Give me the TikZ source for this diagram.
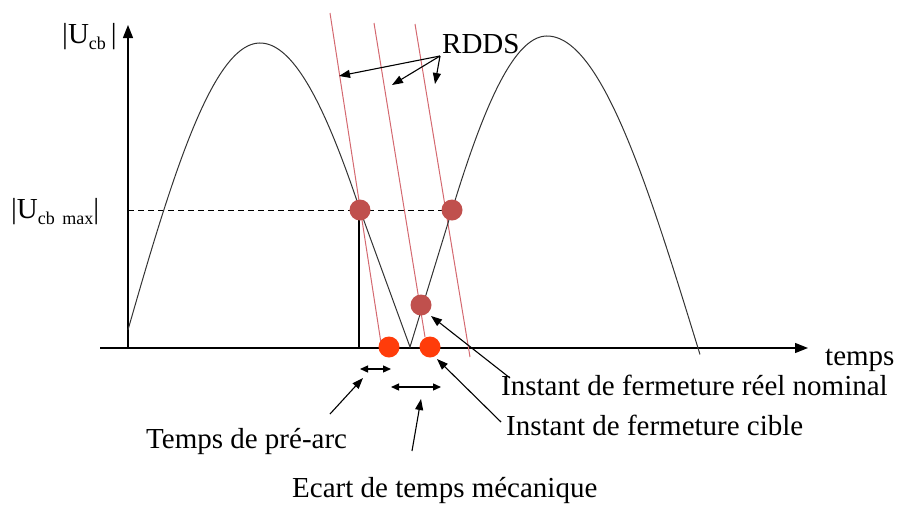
\documentclass[tikz,border=0pt]{standalone}
\usepackage{fontspec}
\setmainfont{Liberation Serif}
\usetikzlibrary{arrows.meta}
\definecolor{dotbrown}{RGB}{192,80,77}
\definecolor{dotorange}{RGB}{255,60,10}
\definecolor{rline}{RGB}{212,105,112}
\newcommand{\subtxt}[1]{\raisebox{-0.22em}{\fontsize{18}{20}\selectfont #1}}
\tikzset{
  lbl/.style={font=\fontsize{29}{33}\selectfont, inner sep=0pt, anchor=base west},
  curve/.style={line width=1pt, black!80},
  axis/.style={line width=1.3pt, -{Triangle[length=13pt,width=10pt]}},
  rdds/.style={rline, line width=1pt},
  bdot/.style={circle, fill=dotbrown, minimum size=21pt, inner sep=0pt},
  odot/.style={circle, fill=dotorange, minimum size=21pt, inner sep=0pt},
  pointer/.style={line width=1.1pt, -{Triangle[length=11pt,width=8pt]}},
  span/.style={line width=1.3pt, {Triangle[length=8pt,width=7pt]}-{Triangle[length=8pt,width=7pt]}}
}
\begin{document}
\begin{tikzpicture}[x=1pt,y=-1pt]
\path[use as bounding box] (0,0) rectangle (903,504);
% axes
\coordinate (xs) at (100,348);
\coordinate (xe) at (808,348);
\coordinate (ys) at (128,348);
\coordinate (ye) at (128,25);
\draw[axis] (xs) -- (xe);
\draw[axis] (ys) -- (ye);
% dashed level
\coordinate (d0) at (128,210);
\coordinate (d1) at (452,210);
\draw[dashed, line width=1pt, dash pattern=on 6pt off 4pt] (d0) -- (d1);
% thick vertical
\coordinate (v0) at (359,210);
\coordinate (v1) at (359,348);
\draw[line width=2.4pt] (v0) -- (v1);
% RDDS lines
\coordinate (r1a) at (330,13);  \coordinate (r1b) at (381,343);
\coordinate (r2a) at (374,23);  \coordinate (r2b) at (425,337);
\coordinate (r3a) at (415,24);  \coordinate (r3b) at (470,357);
\draw[rdds] (r1a) -- (r1b);
\draw[rdds] (r2a) -- (r2b);
\draw[rdds] (r3a) -- (r3b);
% curve
\coordinate (vb) at (410,347);
\draw[curve] plot[domain=128:260, samples=60] (\x, {348 - 305*sin(90*(\x-122.8)/137.2)})
  -- plot[domain=260:360, samples=50] (\x, {348 - 305*cos(90*(\x-260)/142.7)})
  -- (vb) -- (452,210)
  -- plot[domain=452:547, samples=50] (\x, {348 - 312*sin(90*(\x-413)/134)})
  -- plot[domain=547:700, samples=70] (\x, {348 - 312*cos(90*(\x-547)/151)});
% dots
\node[bdot] (p1) at (360,210) {};
\node[bdot] (p2) at (452,210) {};
\node[bdot] (p3) at (421,305) {};
\node[odot] (o1) at (389,347) {};
\node[odot] (o2) at (430,347) {};
% spans
\coordinate (s1a) at (360,369); \coordinate (s1b) at (391,369);
\coordinate (s2a) at (391,387); \coordinate (s2b) at (441,387);
\draw[span] (s1a) -- (s1b);
\draw[span] (s2a) -- (s2b);
% labels
\node[lbl] (yl) at (62,43) {|U\subtxt{cb}\,|};
\node[lbl] (ymax) at (11,218) {|U\subtxt{cb\, max}|};
\node[lbl] (rd) at (442,53) {RDDS};
\node[lbl] (tp) at (825,365) {temps};
\node[lbl] (reel) at (501,395) {Instant de fermeture réel nominal};
\node[lbl] (cible) at (506,435) {Instant de fermeture cible};
\node[lbl] (pre) at (146,448) {Temps de pré-arc};
\node[lbl] (ecart) at (292,497) {Ecart de temps mécanique};
% RDDS pointers
\coordinate (rc) at (440,56);
\coordinate (h1) at (339,76);
\coordinate (h2) at (392,85);
\coordinate (h3) at (435,84);
\draw[pointer] (rc) -- (h1);
\draw[pointer] (rc) -- (h2);
\draw[pointer] (rc) -- (h3);
% other pointers
\coordinate (pa) at (330,414); \coordinate (pah) at (363,378);
\draw[pointer] (pa) -- (pah);
\coordinate (ea) at (412,451); \coordinate (eah) at (421,399);
\draw[pointer] (ea) -- (eah);
\coordinate (ca) at (501,422); \coordinate (cah) at (437,359);
\draw[pointer] (ca) -- (cah);
\coordinate (na) at (510,378); \coordinate (nah) at (431,316);
\draw[pointer] (na) -- (nah);
\end{tikzpicture}
\end{document}
